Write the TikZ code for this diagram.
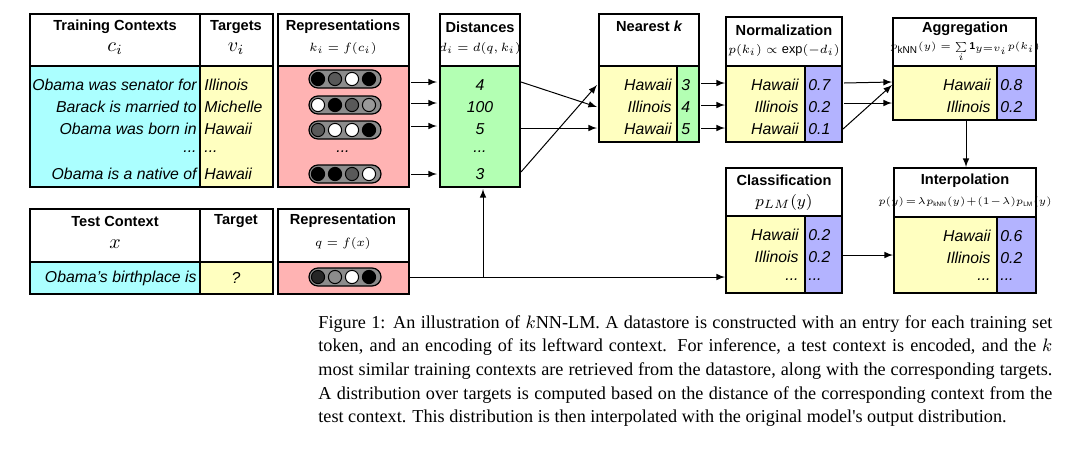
\documentclass[tikz,border=0pt]{standalone}
\usepackage{fontspec}
\setmainfont{Liberation Sans}
\newfontfamily\capfont{Liberation Serif}
\usepackage{amsmath}
\tikzset{>=latex}
\definecolor{ctxcol}{HTML}{ABFFFF}
\definecolor{tgtcol}{HTML}{FFFFC0}
\definecolor{repcol}{HTML}{FFB3B3}
\definecolor{dstcol}{HTML}{B3FFB3}
\definecolor{prbcol}{HTML}{B3B3FF}
\tikzstyle{cell} = [draw, line width=0.6pt]
\tikzstyle{flow} = [->, line width=0.5pt]
\tikzstyle{title} = [font=\bfseries\fontsize{7.3}{9}\selectfont]
\tikzstyle{word} = [font=\itshape\fontsize{7.9}{9}\selectfont, inner sep=0]
\tikzstyle{formula} = [font=\fontsize{6.4}{7}\selectfont]
\newcommand{\dts}{...}
\newcommand{\pill}[5]{
\draw[fill=black!45, line width=0.6pt, rounded corners=4.5pt] (309,#1-9) rectangle (381,#1+9);
\foreach \c [count=\n] in {#2,#3,#4,#5}
	\draw[fill=\c, line width=0.5pt] (301+17*\n,#1) circle (3.3pt);
}

\begin{document}
\begin{tikzpicture}[x=0.5pt, y=-0.5pt]
		\useasboundingbox (0,0) rectangle (1069,472);
		
		% Training block
		\draw[cell, fill=ctxcol] (30,66) rectangle (200,187);
		\draw[cell, fill=tgtcol] (200,66) rectangle (273,187);
		\draw[cell] (30,14) rectangle (200,66);
		\draw[cell] (200,14) rectangle (273,66);
		\node[title] (trainhead) at (115,27) {Training Contexts};
		\node (trainmath) at (115,49) {$\Large c_i$};
		\node[title] (tgthead) at (236,27) {Targets};
		\node (tgtmath) at (236,49) {$\Large v_i$};
		\foreach \t/\v/\y in {Obama was senator for/Illinois/85, Barack is married to/Michelle/107, Obama was born in/Hawaii/129, \dts/\dts/152, Obama is a native of/Hawaii/174}
		{
			\node[word, anchor=east] at (197,\y) {\t};
			\node[word, anchor=west] at (204,\y) {\v};
		}
		
		% Representations
		\draw[cell, fill=repcol] (278,66) rectangle (409,187);
		\draw[cell] (278,14) rectangle (409,66);
		\node[title] (rephead) at (343,27) {Representations};
		\node[formula] (repmath) at (343,48) {$k_i = f(c_i)$};
		\pill{79}{black}{black!65}{white}{black}
		\pill{105}{white}{black}{black!65}{black!40}
		\pill{130}{black!65}{white}{white}{black}
		\node[word] at (343,152) {\dts};
		\pill{174}{black}{black}{black!65}{white}
		
		% Distances
		\draw[cell, fill=dstcol] (440,66) rectangle (520,187);
		\draw[cell] (440,14) rectangle (520,66);
		\node[title] (disthead) at (480,27) {Distances};
		\node[formula] (distmath) at (480,48) {$d_i = d(q,k_i)$};
		\foreach \d/\y in {4/85, 100/107, 5/129, \dts/152, 3/174}
			\node[word] at (480,\y) {\d};
		\foreach \y in {82,103,126,174}
			\draw[flow] (411,\y) -- (437,\y);
		
		% Test block
		\draw[cell, fill=ctxcol] (30,262) rectangle (200,294);
		\draw[cell, fill=tgtcol] (200,262) rectangle (273,294);
		\draw[cell] (30,209) rectangle (200,262);
		\draw[cell] (200,209) rectangle (273,262);
		\node[title] (testhead) at (115,221) {Test Context};
		\node (testmath) at (115,244) {$\Large x$};
		\node[title] (ttgthead) at (236,221) {Target};
		\node[word, anchor=east] at (197,278) {Obama's birthplace is};
		\node[word] at (236,278) {?};
		\draw[cell, fill=repcol] (278,262) rectangle (409,294);
		\draw[cell] (278,209) rectangle (409,262);
		\node[title] (qhead) at (343,221) {Representation};
		\node[formula] (qmath) at (343,243) {$q = f(x)$};
		\pill{277}{black!85}{black!45}{white}{black}
		
		% Nearest k
		\draw[cell, fill=tgtcol] (599,66) rectangle (677,142);
		\draw[cell, fill=dstcol] (677,66) rectangle (699,142);
		\draw[cell] (599,14) rectangle (699,66);
		\node[title] (nearhead) at (649,26) {Nearest \itshape k};
		\foreach \w/\n/\y in {Hawaii/3/85, Illinois/4/107, Hawaii/5/129}
		{
			\node[word, anchor=east] at (672,\y) {\w};
			\node[word, anchor=west] at (681,\y) {\n};
		}
		\draw[flow] (521,82) -- (597,107);
		\draw[flow] (521,128) -- (597,128);
		\draw[flow] (521,172) -- (597,85);
		
		% Normalization
		\draw[cell, fill=tgtcol] (726,66) rectangle (805,142);
		\draw[cell, fill=prbcol] (805,66) rectangle (842,142);
		\draw[cell] (726,17) rectangle (842,66);
		\node[title] (normhead) at (784,30) {Normalization};
		\node[formula] (normmath) at (784,50) {$p(k_i) \propto \exp(-d_i)$};
		\foreach \w/\n/\y in {Hawaii/0.7/85, Illinois/0.2/107, Hawaii/0.1/129}
		{
			\node[word, anchor=east] at (799,\y) {\w};
			\node[word, anchor=west] at (808,\y) {\n};
		}
		\foreach \y in {83,105,128}
			\draw[flow] (701,\y) -- (725,\y);
		
		% Aggregation
		\draw[cell, fill=tgtcol] (893,66) rectangle (997,120);
		\draw[cell, fill=prbcol] (997,66) rectangle (1036,120);
		\draw[cell] (893,18) rectangle (1036,66);
		\node[title] (agghead) at (965,29) {Aggregation};
		\node[font=\fontsize{5}{6}\selectfont] (aggmath) at (965,52) {$p_{\mathrm{kNN}}(y) = \sum\limits_i \mathbf{1}_{y=v_i} p(k_i)$};
		\foreach \w/\n/\y in {Hawaii/0.8/85, Illinois/0.2/107}
		{
			\node[word, anchor=east] at (991,\y) {\w};
			\node[word, anchor=west] at (1000,\y) {\n};
		}
		\draw[flow] (844,83) -- (892,82);
		\draw[flow] (844,103) -- (892,103);
		\draw[flow] (843,129) -- (892,85);
		
		% Classification
		\draw[cell, fill=tgtcol] (726,216) rectangle (805,293);
		\draw[cell, fill=prbcol] (805,216) rectangle (842,293);
		\draw[cell] (726,168) rectangle (842,216);
		\node[title] (clshead) at (784,180) {Classification};
		\node[font=\fontsize{8}{9}\selectfont] (clsmath) at (784,202) {$p_{LM}(y)$};
		\foreach \w/\n/\y in {Hawaii/0.2/235, Illinois/0.2/257, \dts/\dts/280}
		{
			\node[word, anchor=east] at (799,\y) {\w};
			\node[word, anchor=west] at (808,\y) {\n};
		}
		
		% Interpolation
		\draw[cell, fill=tgtcol] (894,217) rectangle (997,293);
		\draw[cell, fill=prbcol] (997,217) rectangle (1036,293);
		\draw[cell] (894,168) rectangle (1036,217);
		\node[title] (inthead) at (965,181) {Interpolation};
		\node[font=\fontsize{4.6}{5}\selectfont] (intmath) at (965,202) {$p(y)\!=\!\lambda p_{\mathrm{kNN}}(y)\!+\!(1\!-\!\lambda)p_{\mathrm{LM}}(y)$};
		\foreach \w/\n/\y in {Hawaii/0.6/236, Illinois/0.2/258, \dts/\dts/280}
		{
			\node[word, anchor=east] at (991,\y) {\w};
			\node[word, anchor=west] at (1000,\y) {\n};
		}
		\draw[flow] (966,121) -- (966,167);
		\draw[flow] (843,255) -- (893,255);
		
		% Query path
		\draw[line width=0.5pt] (410,277) -- (483,277);
		\draw[flow] (483,277) -- (483,189);
		\draw[flow] (483,277) -- (725,277);
		
		% Caption
		\node[anchor=north west, inner sep=0, text width=367pt, align=justify, font=\capfont\fontsize{9.1}{11.8}\selectfont] (caption) at (318,315)
		{Figure 1: An illustration of $k$NN-LM. A datastore is constructed with an entry for each training set\linebreak
		token, and an encoding of its leftward context. For inference, a test context is encoded, and the $k$\linebreak
		most similar training contexts are retrieved from the datastore, along with the corresponding targets.\linebreak
		A distribution over targets is computed based on the distance of the corresponding context from the\linebreak
		test context. This distribution is then interpolated with the original model's output distribution.};
	\end{tikzpicture}
\end{document}
